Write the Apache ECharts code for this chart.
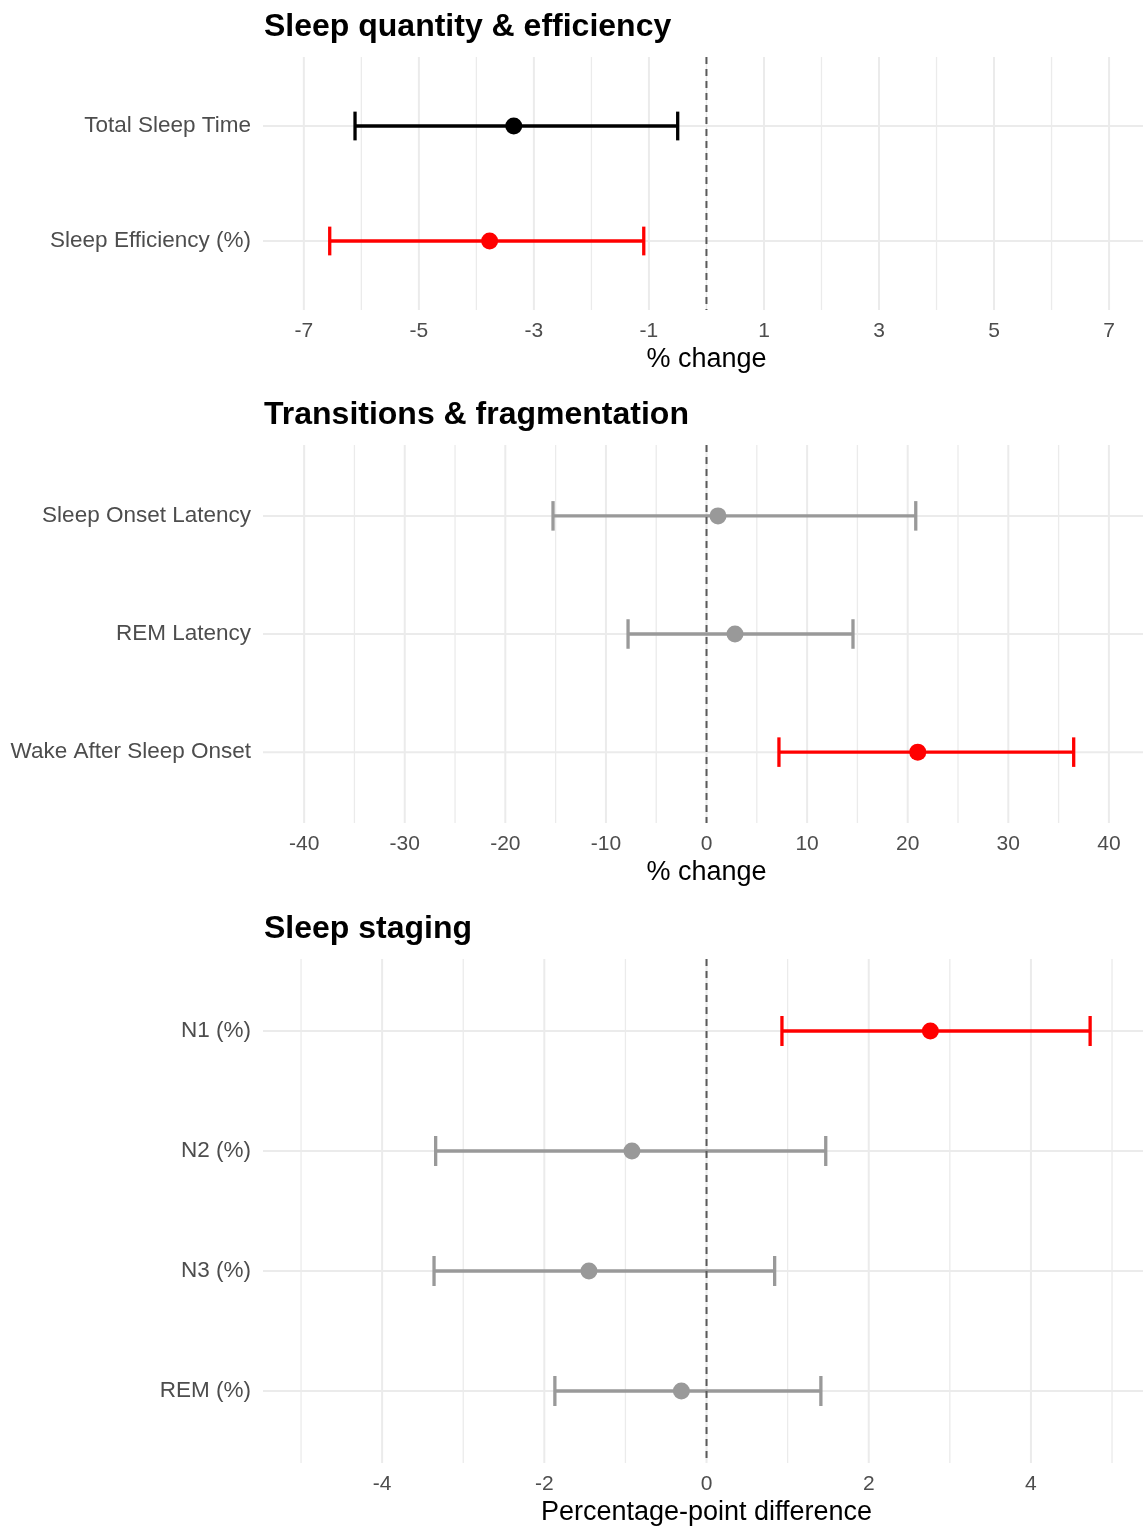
<!DOCTYPE html>
<html>
<head>
<meta charset="utf-8">
<script src="https://cdn.jsdelivr.net/npm/echarts@6/dist/echarts.min.js"></script>
<style>
html,body{margin:0;padding:0;background:#ffffff;}
#chart{width:1143px;height:1527px;}
</style>
</head>
<body>
<div id="chart"></div>
<script>
// ---------------- DATA ----------------
const panelTitles = ['Sleep quantity & efficiency', 'Transitions & fragmentation', 'Sleep staging'];
const axisTitles = ['% change', '% change', 'Percentage-point difference'];

// Panel 1: Sleep quantity & efficiency (% change)
const p1Categories = ['Total Sleep Time', 'Sleep Efficiency (%)'];
const p1Estimate = [-3.35, -3.77];
const p1Lower = [-6.11, -6.55];
const p1Upper = [-0.50, -1.09];
const p1Status = ['primary', 'significant'];
const p1Ticks = [-7, -5, -3, -1, 1, 3, 5, 7];
const p1MinorTicks = [-6, -4, -2, 0, 2, 4, 6];
const p1Range = [-7.71, 7.59];

// Panel 2: Transitions & fragmentation (% change)
const p2Categories = ['Sleep Onset Latency', 'REM Latency', 'Wake After Sleep Onset'];
const p2Estimate = [1.14, 2.83, 21.0];
const p2Lower = [-15.26, -7.8, 7.2];
const p2Upper = [20.8, 14.56, 36.5];
const p2Status = ['ns', 'ns', 'significant'];
const p2Ticks = [-40, -30, -20, -10, 0, 10, 20, 30, 40];
const p2MinorTicks = [-35, -25, -15, -5, 5, 15, 25, 35];
const p2Range = [-44.09, 43.39];

// Panel 3: Sleep staging (percentage-point difference)
const p3Categories = ['N1 (%)', 'N2 (%)', 'N3 (%)', 'REM (%)'];
const p3Estimate = [2.76, -0.92, -1.45, -0.31];
const p3Lower = [0.93, -3.34, -3.36, -1.87];
const p3Upper = [4.73, 1.47, 0.84, 1.41];
const p3Status = ['significant', 'ns', 'ns', 'ns'];
const p3Ticks = [-4, -2, 0, 2, 4];
const p3MinorTicks = [-5, -3, -1, 1, 3, 5];
const p3Range = [-5.469, 5.382];

// ---------------- STYLE / LAYOUT ----------------
const FONT = '"Liberation Sans", Arial, Helvetica, sans-serif';
const statusColor = { primary: '#000000', significant: '#FF0000', ns: '#999999' };
const layouts = [
  { top: 57, height: 253, titleTop: 11 },
  { top: 445, height: 378, titleTop: 399 },
  { top: 959, height: 505, titleTop: 913 }
];
const GRID_LEFT = 263, GRID_WIDTH = 880;

const panels = [
  { cats: p1Categories, est: p1Estimate, lo: p1Lower, hi: p1Upper, status: p1Status, ticks: p1Ticks, minor: p1MinorTicks, range: p1Range },
  { cats: p2Categories, est: p2Estimate, lo: p2Lower, hi: p2Upper, status: p2Status, ticks: p2Ticks, minor: p2MinorTicks, range: p2Range },
  { cats: p3Categories, est: p3Estimate, lo: p3Lower, hi: p3Upper, status: p3Status, ticks: p3Ticks, minor: p3MinorTicks, range: p3Range }
];

const option = {
  animation: false,
  backgroundColor: '#ffffff',
  textStyle: { fontFamily: FONT },
  title: [], grid: [], xAxis: [], yAxis: [], series: []
};

panels.forEach(function (p, i) {
  const L = layouts[i];
  const n = p.cats.length;
  option.title.push({
    text: panelTitles[i], left: 264, top: L.titleTop, padding: 0,
    textStyle: { fontSize: 32, fontWeight: 'bold', color: '#000000', fontFamily: FONT }
  });
  option.grid.push({ left: GRID_LEFT, top: L.top, width: GRID_WIDTH, height: L.height, containLabel: false });
  option.xAxis.push({
    gridIndex: i, type: 'value', min: p.range[0], max: p.range[1],
    axisLine: { show: false }, axisTick: { show: false }, splitLine: { show: false },
    axisLabel: {
      customValues: p.ticks, color: '#4D4D4D', fontSize: 21, margin: 11, fontFamily: FONT,
      formatter: function (v) { return String(v); }
    },
    name: axisTitles[i], nameLocation: 'middle', nameGap: 36,
    nameTextStyle: { fontSize: 27, color: '#000000', fontFamily: FONT, padding: [0, 0, 0, 7] }
  });
  const idx = p.cats.map(function (_, k) { return k; });
  option.yAxis.push({
    gridIndex: i, type: 'value', inverse: true, min: -0.6, max: n - 0.4,
    axisLine: { show: false }, axisTick: { show: false }, splitLine: { show: false },
    axisLabel: {
      customValues: idx, color: '#4D4D4D', fontSize: 22.5, margin: 12, fontFamily: FONT,
      formatter: function (v) { return p.cats[Math.round(v)]; }
    }
  });

  // vertical gridlines (major = 1, minor = 0)
  const vData = p.ticks.map(function (v) { return [v, 0, 1]; })
    .concat(p.minor.map(function (v) { return [v, 0, 0]; }));
  option.series.push({
    type: 'custom', xAxisIndex: i, yAxisIndex: i, silent: true, z: 1, clip: false,
    data: vData,
    renderItem: function (params, api) {
      const cs = params.coordSys;
      const x = api.coord([api.value(0), 0])[0];
      const major = api.value(2) === 1;
      return { type: 'line', shape: { x1: x, y1: cs.y, x2: x, y2: cs.y + cs.height },
        style: { stroke: '#EBEBEB', lineWidth: major ? 2 : 1.3 } };
    }
  });
  // horizontal gridlines at categories
  option.series.push({
    type: 'custom', xAxisIndex: i, yAxisIndex: i, silent: true, z: 1, clip: false,
    data: idx.map(function (k) { return [0, k]; }),
    renderItem: function (params, api) {
      const cs = params.coordSys;
      const y = api.coord([0, api.value(1)])[1];
      return { type: 'line', shape: { x1: cs.x, y1: y, x2: cs.x + cs.width, y2: y },
        style: { stroke: '#EBEBEB', lineWidth: 2 } };
    }
  });
  // error bars
  option.series.push({
    type: 'custom', xAxisIndex: i, yAxisIndex: i, silent: true, z: 3, clip: false,
    encode: { x: [0, 1], y: 2 },
    data: p.lo.map(function (lo, k) { return [lo, p.hi[k], k]; }),
    renderItem: function (params, api) {
      const k = api.value(2);
      const a = api.coord([api.value(0), k]);
      const b = api.coord([api.value(1), k]);
      const h = Math.abs(api.size([0, 0.25])[1]) / 2;
      const col = statusColor[p.status[params.dataIndex]];
      const st = { stroke: col, lineWidth: 3.3, lineCap: 'butt' };
      return { type: 'group', children: [
        { type: 'line', shape: { x1: a[0], y1: a[1], x2: b[0], y2: b[1] }, style: st },
        { type: 'line', shape: { x1: a[0], y1: a[1] - h, x2: a[0], y2: a[1] + h }, style: st },
        { type: 'line', shape: { x1: b[0], y1: b[1] - h, x2: b[0], y2: b[1] + h }, style: st }
      ] };
    }
  });
  // dashed zero reference line
  option.series.push({
    type: 'custom', xAxisIndex: i, yAxisIndex: i, silent: true, z: 4, clip: false,
    data: [[0, 0]],
    renderItem: function (params, api) {
      const cs = params.coordSys;
      const x = api.coord([0, 0])[0];
      return { type: 'line', shape: { x1: x, y1: cs.y, x2: x, y2: cs.y + cs.height },
        style: { stroke: '#5A5A5A', lineWidth: 2, lineDash: [7, 5] } };
    }
  });
  // point estimates
  option.series.push({
    type: 'scatter', xAxisIndex: i, yAxisIndex: i, silent: true, z: 5,
    symbol: 'circle', symbolSize: 17,
    data: p.est.map(function (v, k) { return [v, k]; }),
    itemStyle: { opacity: 1, color: function (params) { return statusColor[p.status[params.dataIndex]]; } }
  });
});

const chart = echarts.init(document.getElementById('chart'), null, { renderer: 'canvas' });
chart.setOption(option);
</script>
</body>
</html>
